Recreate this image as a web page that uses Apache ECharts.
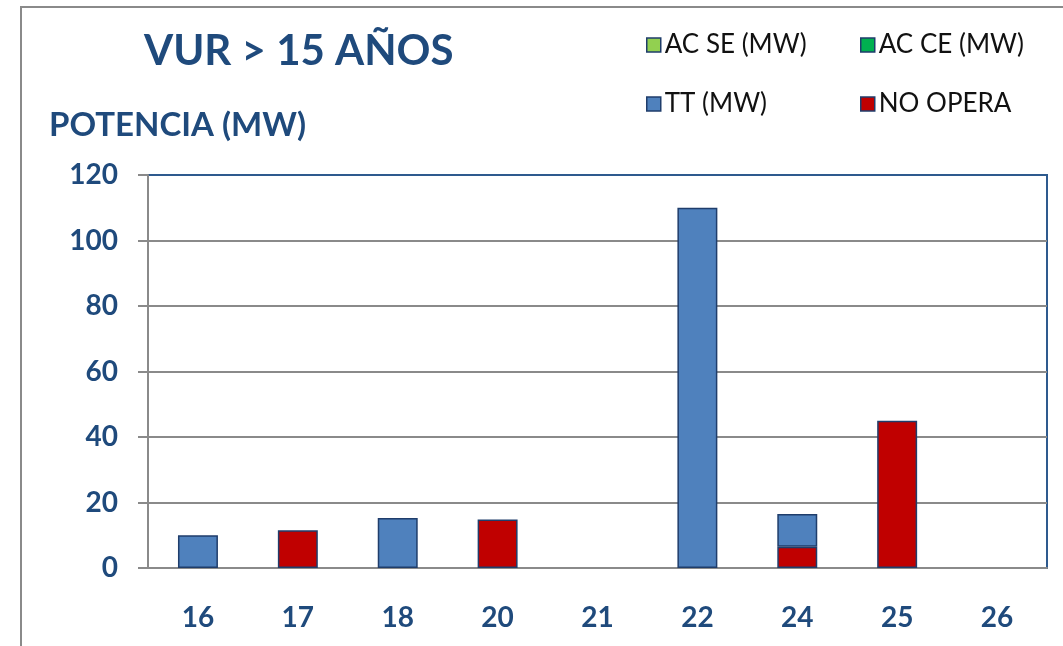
<!DOCTYPE html>
<html>
<head>
<meta charset="utf-8">
<script src="https://cdn.jsdelivr.net/npm/echarts@6/dist/echarts.min.js"></script>
<style>
  html, body { margin: 0; padding: 0; background: #fff; }
  #chart { width: 1063px; height: 646px; }
</style>
</head>
<body>
<div id="chart"></div>
<script>
// categorías (años)
var categories = ['16', '17', '18', '20', '21', '22', '24', '25', '26'];
// potencia por tipo (MW)
var acSe = [null, null, null, null, null, null, null, null, null];
var acCe = [null, null, null, null, null, null, null, null, null];
var tt = [10, null, 15.3, null, null, 110, 10, null, null];
var noOpera = [null, 11.5, null, 14.8, null, null, 6.5, 45, null];
var yTicks = [0, 20, 40, 60, 80, 100, 120];

var navy = '#1f4a7c';
var edge = '#1f3d6b';
var gray = '#8a8a8a';

var chart = echarts.init(document.getElementById('chart'));

function legendAt(name, left, top) {
  return {
    data: [name],
    left: left,
    top: top,
    itemWidth: 14,
    itemHeight: 14,
    itemGap: 6,
    selectedMode: false,
    icon: 'rect',
    itemStyle: { borderColor: edge, borderWidth: 1.5 },
    textStyle: { fontFamily: 'Lato', fontSize: 26, color: '#111', padding: [0, 0, 0, -1] }
  };
}

chart.setOption({
  animation: false,
  title: [{
    text: 'VUR > 15 AÑOS',
    left: 139,
    top: 25,
    textStyle: { fontFamily: 'Lato', fontWeight: 'bold', fontSize: 42, color: navy }
  }, {
    text: 'POTENCIA (MW)',
    left: 44,
    top: 104,
    textStyle: { fontFamily: 'Lato', fontWeight: 'bold', fontSize: 33, color: navy }
  }],
  legend: [
    legendAt('AC SE (MW)', 641, 27),
    legendAt('AC CE (MW)', 855, 27),
    legendAt('TT (MW)', 641, 86),
    legendAt('NO OPERA', 855, 86)
  ],
  graphic: [{
    type: 'polyline',
    shape: { points: [[21, 646], [21, 7], [1063, 7]] },
    style: { stroke: gray, lineWidth: 2, fill: null }
  }],
  grid: {
    left: 148,
    right: 16,
    top: 175,
    bottom: 78,
    show: true,
    borderColor: '#2e5a8e',
    borderWidth: 2
  },
  xAxis: {
    type: 'category',
    data: categories,
    axisLine: { lineStyle: { color: gray, width: 2 } },
    axisTick: { length: 10, lineStyle: { color: gray, width: 2 } },
    axisLabel: { margin: 36, fontFamily: 'Lato', fontWeight: 'bold', fontSize: 28, color: navy }
  },
  yAxis: {
    type: 'value',
    min: yTicks[0],
    max: yTicks[yTicks.length - 1],
    interval: yTicks[1] - yTicks[0],
    axisLine: { show: true, lineStyle: { color: gray, width: 2 } },
    axisTick: { show: true, length: 10, lineStyle: { color: gray, width: 2 } },
    axisLabel: { margin: 30, fontFamily: 'Lato', fontWeight: 'bold', fontSize: 28, color: navy },
    splitLine: { showMaxLine: false, lineStyle: { color: gray, width: 2 } }
  },
  series: [{
    name: 'NO OPERA',
    type: 'bar',
    stack: 'total',
    barWidth: '40%',
    data: noOpera,
    itemStyle: { color: '#c00000', borderColor: edge, borderWidth: 1.5 }
  }, {
    name: 'TT (MW)',
    type: 'bar',
    stack: 'total',
    data: tt,
    itemStyle: { color: '#4f81bd', borderColor: edge, borderWidth: 1.5 }
  }, {
    name: 'AC SE (MW)',
    type: 'bar',
    stack: 'total',
    data: acSe,
    itemStyle: { color: '#92d050', borderColor: edge, borderWidth: 1.5 }
  }, {
    name: 'AC CE (MW)',
    type: 'bar',
    stack: 'total',
    data: acCe,
    itemStyle: { color: '#00b050', borderColor: edge, borderWidth: 1.5 }
  }]
});
</script>
</body>
</html>
